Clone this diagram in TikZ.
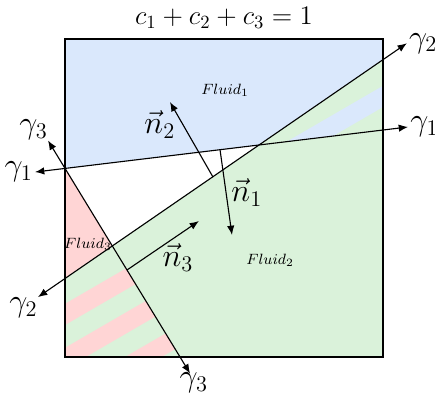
\documentclass[tikz,border=0pt]{standalone}
\usepackage{amsmath}
\usetikzlibrary{calc,arrows.meta}

\definecolor{fluidblue}{HTML}{DAE8FC}
\definecolor{fluidgreen}{HTML}{DAF2DA}
\definecolor{fluidred}{HTML}{FFD5D5}

\begin{document}
\begin{tikzpicture}[
  iface/.style={semithick,{Latex[length=5pt,width=4pt]}-{Latex[length=5pt,width=4pt]}},
  normal/.style={semithick,-{Latex[length=5pt,width=4pt]}},
  glabel/.style={inner sep=1pt,font=\LARGE},
  nlabel/.style={font=\LARGE},
  flabel/.style={font=\footnotesize}
]
\useasboundingbox (-1.226,-0.698) rectangle (6.981,6.736);

% interface points
\coordinate (P)   at (0,3.56);
\coordinate (Q12) at (3.655,4.001);
\coordinate (Q23) at (0.890,2.101);
\coordinate (R1)  at (6,4.284);
\coordinate (R2)  at (6,5.612);
\coordinate (L2)  at (0,1.49);
\coordinate (B3)  at (2.17,0);

% phases
\fill[fluidblue] (0,6) -- (6,6) -- (R1) -- (P) -- cycle;
\fill[fluidred] (P) -- (B3) -- (0,0) -- cycle;
\fill[fluidgreen] (0,0) -- (6,0) -- (R2) -- (L2) -- cycle;

% mixed cells
\begin{scope}
  \clip (Q12) -- (R1) -- (R2) -- cycle;
  \foreach \b in {1.237}
    \fill[fluidblue] (0,\b) -- (7,\b+4.06) -- (7,\b+4.46) -- (0,\b+0.4) -- cycle;
\end{scope}
\begin{scope}
  \clip (0,0) -- (B3) -- (Q23) -- (L2) -- cycle;
  \foreach \b in {0.604,-0.226,-1.056}
    \fill[fluidred] (0,\b) -- (7,\b+4.06) -- (7,\b+4.46) -- (0,\b+0.4) -- cycle;
\end{scope}

\draw[line width=1pt] (0,0) rectangle (6,6);

% interfaces
\coordinate (g1l) at (-0.566,3.49);
\coordinate (g1r) at (6.472,4.34);
\coordinate (g2l) at (-0.51,1.13);
\coordinate (g2r) at (6.45,5.92);
\coordinate (g3t) at (-0.32,4.085);
\coordinate (g3b) at (2.36,-0.31);

\draw[iface] (g1l) -- (g1r);
\draw[iface] (g2l) -- (g2r);
\draw[iface] (g3t) -- (g3b);

\node[glabel,left] (g1ltxt) at (g1l) {$\gamma_1$};
\node[glabel,right] (g1rtxt) at (g1r) {$\gamma_1$};
\node[glabel,right] (g2rtxt) at (g2r) {$\gamma_2$};
\node[glabel,below left,inner sep=0pt] (g2ltxt) at (g2l) {$\gamma_2$};
\node[glabel,above left,inner sep=0pt] (g3ttxt) at (g3t) {$\gamma_3$};
\node[glabel,inner sep=0pt] (g3btxt) at ($(g3b)+(0.07,-0.17)$) {$\gamma_3$};

% normals
\coordinate (n1s) at (2.925,3.913);
\coordinate (n1e) at (3.151,2.302);
\coordinate (n2s) at (2.792,3.396);
\coordinate (n2e) at (1.981,4.811);
\coordinate (n3s) at (1.170,1.642);
\coordinate (n3e) at (2.528,2.566);

\draw[normal] (n1s) -- (n1e);
\draw[normal] (n2s) -- (n2e);
\draw[normal] (n3s) -- (n3e);

\node[nlabel] (n1txt) at (3.43,3.11) {$\vec{n}_1$};
\node[nlabel] (n2txt) at (1.79,4.38) {$\vec{n}_2$};
\node[nlabel] (n3txt) at (2.13,1.87) {$\vec{n}_3$};

\node[flabel] (f1txt) at (3.02,5.04) {$Fluid_1$};
\node[flabel] (f2txt) at (3.87,1.83) {$Fluid_2$};
\node[flabel] (f3txt) at (0.434,2.13) {$Fluid_3$};

\node[font=\Large] (title) at (3.0,6.40) {$c_1 + c_2 + c_3 = 1$};
\end{tikzpicture}
\end{document}
